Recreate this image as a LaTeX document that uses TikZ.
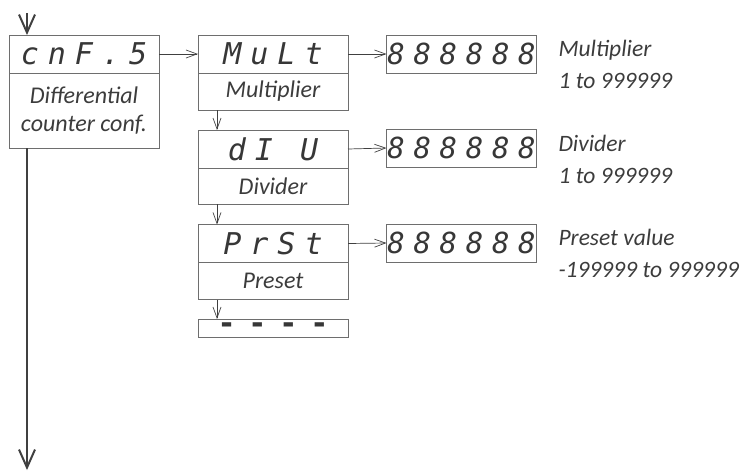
\documentclass[tikz,border=0pt]{standalone}
\usepackage{fontspec}
\setmainfont{Carlito}
\newfontfamily\segfont[LetterSpace=30]{DejaVu Sans Mono}
\usetikzlibrary{arrows.meta}

\begin{document}
\begin{tikzpicture}[x=1pt, y=-1pt,
    disp/.style={draw=boxcolor, line width=0.8pt, minimum width=150pt, minimum height=38pt,
      inner sep=0pt, outer sep=0pt, text=segcolor, font=\segfont\itshape\fontsize{30}{30}\selectfont},
    val/.style={disp, font=\segfont\itshape\fontsize{29}{29}\selectfont},
    lbl/.style={draw=boxcolor, line width=0.8pt, minimum width=150pt, inner sep=0pt, outer sep=0pt,
      align=center, text=txtcolor, font=\itshape\fontsize{24}{28}\selectfont},
    note/.style={anchor=west, align=left, text=txtcolor, font=\itshape\fontsize{23.5}{32}\selectfont},
    link/.style={draw=linecolor, line width=0.7pt, -{Straight Barb[length=11pt, width=8pt]}},
    flow/.style={draw=linecolor, line width=2pt, -{Straight Barb[length=18pt, width=16pt]}}]
  \useasboundingbox (0,0) rectangle (744,472);

  % Define colors
  \definecolor{boxcolor}{RGB}{110,110,110} % box borders
  \definecolor{linecolor}{RGB}{64,64,64} % connectors
  \definecolor{segcolor}{RGB}{55,55,55} % display digits
  \definecolor{txtcolor}{RGB}{60,60,60} % labels

  % Main menu entry
  \node[disp] (conf) at (84,54) {cnF.5};
  \node[lbl, minimum height=75pt, anchor=north] (confLbl) at (conf.south) {Differential\\counter conf.};

  % Submenu entries
  \node[disp] (mult) at (273,54) {MuLt};
  \node[lbl, minimum height=37pt, anchor=north] (multLbl) at (mult.south) {Multiplier};
  \node[disp] (div) at (273,149) {dI U};
  \node[lbl, minimum height=36pt, anchor=north] (divLbl) at (div.south) {Divider};
  \node[disp] (prst) at (273,243.5) {PrSt};
  \node[lbl, minimum height=37pt, anchor=north] (prstLbl) at (prst.south) {Preset};
  \node[disp, minimum height=18pt, font=\segfont\addfontfeature{LetterSpace=43}\bfseries\fontsize{30}{30}\selectfont] (dash) at (273,328) {----};

  % Value displays
  \node[val] (multVal) at (461.5,54) {888888};
  \node[val] (divVal) at (461.5,148) {888888};
  \node[val] (prstVal) at (461.5,243) {888888};

  % Notes
  \node[note] (multTxt) at (555,64) {Multiplier\\1 to 999999};
  \node[note] (divTxt) at (555,159) {Divider\\1 to 999999};
  \node[note] (prstTxt) at (555,253) {Preset value\\-199999 to 999999};

  % Connectors
  \draw[link] (conf.east) -- (mult.west);
  \draw[link] (mult.east) -- (multVal.west);
  \draw[link] (div.east) -- (divVal.west);
  \draw[link] (prst.east) -- (prstVal.west);
  \draw[link] ([xshift=19pt]multLbl.south west) -- ([xshift=19pt]div.north west);
  \draw[link] ([xshift=19pt]divLbl.south west) -- ([xshift=19pt]prst.north west);
  \draw[link] ([xshift=19pt]prstLbl.south west) -- ([xshift=19pt]dash.north west);

  % Main flow
  \coordinate (in) at (27,13);
  \coordinate (out) at (27,470);
  \draw[flow] (in) -- ([xshift=18pt]conf.north west);
  \draw[flow] ([xshift=18pt]confLbl.south west) -- (out);
\end{tikzpicture}
\end{document}
